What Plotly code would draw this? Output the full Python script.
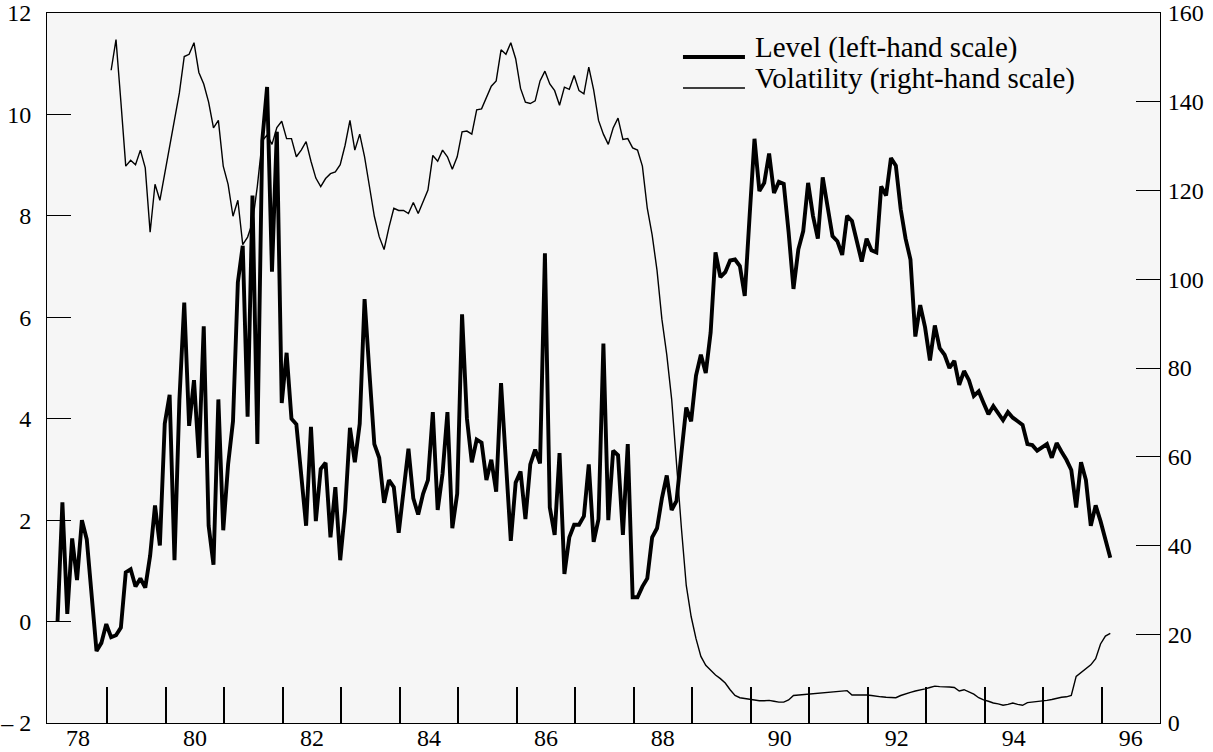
import plotly.graph_objects as go

# ---------------- data ----------------
# monthly observations; month index 0 = Jan 1978
LEVEL_START = 1
level = [
    0.0, 2.35, 0.15, 1.64, 0.82, 2.0, 1.62, 0.5, -0.58, -0.42,          # 1-10
    -0.05, -0.31, -0.27, -0.12, 0.97, 1.03, 0.69, 0.85, 0.67, 1.3,      # 11-20
    2.29, 1.5, 3.9, 4.47, 1.21, 4.36, 6.29, 3.86, 4.76, 3.23,           # 21-30
    5.82, 1.89, 1.12, 4.38, 1.8, 3.1, 3.95, 6.69, 7.41, 4.04,           # 31-40
    8.4, 3.5, 9.48, 10.54, 6.9, 9.66, 4.31, 5.3, 4.0, 3.89,             # 41-50
    2.9, 1.89, 3.84, 1.98, 3.01, 3.13, 1.66, 2.65, 1.21, 2.2,           # 51-60
    3.82, 3.14, 3.9, 6.36, 4.9, 3.5, 3.23, 2.34, 2.79, 2.65,            # 61-70
    1.75, 2.52, 3.41, 2.43, 2.11, 2.52, 2.79, 4.13, 2.2, 2.92,          # 71-80
    4.13, 1.84, 2.52, 6.06, 4.0, 3.14, 3.59, 3.53, 2.79, 3.19,          # 81-90
    2.56, 4.7, 3.0, 1.59, 2.74, 2.96, 2.02, 3.1, 3.39, 3.12,            # 91-100
    7.26, 2.25, 1.71, 3.32, 0.94, 1.66, 1.91, 1.91, 2.08, 3.1,          # 101-110
    1.57, 2.02, 5.48, 2.0, 3.37, 3.28, 1.71, 3.5, 0.48, 0.48,           # 111-120
    0.69, 0.85, 1.66, 1.84, 2.43, 2.88, 2.2, 2.38, 3.32, 4.22,          # 121-130
    3.95, 4.85, 5.26, 4.9, 5.7, 7.28, 6.79, 6.89, 7.12, 7.14,           # 131-140
    7.01, 6.42, 8.0, 9.52, 8.49, 8.65, 9.23, 8.45, 8.67, 8.63,          # 141-150
    7.68, 6.56, 7.34, 7.7, 8.65, 8.0, 7.55, 8.76, 8.18, 7.6,            # 151-160
    7.5, 7.23, 8.0, 7.9, 7.5, 7.1, 7.55, 7.32, 7.28, 8.58,              # 161-170
    8.4, 9.14, 8.99, 8.13, 7.55, 7.14, 5.62, 6.24, 5.8, 5.15,           # 171-180
    5.84, 5.39, 5.26, 5.0, 5.14, 4.67, 4.94, 4.76, 4.45, 4.54,          # 181-190
    4.31, 4.09, 4.25, 4.11, 3.97, 4.13, 4.02, 3.95, 3.88, 3.5,          # 191-200
    3.48, 3.37, 3.44, 3.5, 3.23, 3.52, 3.35, 3.19, 2.99, 2.25,          # 201-210
    3.14, 2.79, 1.89, 2.29, 1.98, 1.62, 1.26,                           # 211-217
]

VOL_START = 12
volatility = [
    147.1, 154.0, 140.0, 125.5, 126.8, 125.8, 129.1, 125.1, 110.6,      # 12-20
    121.4, 117.8, 124.0, 129.6, 136.3, 142.0, 150.2, 150.7, 153.3, 146.6,  # 21-30
    144.0, 139.9, 134.1, 135.8, 125.5, 121.4, 114.2, 117.8, 107.8, 109.5,  # 31-40
    112.8, 121.0, 131.2, 132.5, 130.4, 134.2, 135.6, 131.7, 131.7, 127.6,  # 41-50
    129.1, 131.0, 126.6, 122.8, 120.9, 122.7, 123.8, 124.2, 125.8, 130.2,  # 51-60
    135.8, 129.1, 132.7, 127.6, 120.9, 114.2, 109.6, 106.7, 111.7, 116.0,  # 61-70
    115.5, 115.5, 114.8, 117.3, 114.8, 117.3, 120.1, 127.9, 126.6, 129.1,  # 71-80
    127.6, 124.8, 127.6, 133.2, 133.4, 132.7, 138.2, 138.4, 140.9, 143.5,  # 81-90
    144.7, 151.7, 150.7, 153.3, 149.7, 143.0, 139.9, 139.6, 140.2, 144.7,  # 91-100
    146.9, 144.0, 142.5, 139.2, 143.3, 142.8, 145.9, 142.5, 141.8, 147.8,  # 101-110
    142.7, 135.8, 132.7, 130.4, 134.1, 136.3, 131.5, 131.7, 129.6, 129.1,  # 111-120
    125.5, 116.0, 110.0, 102.0, 91.0, 83.0, 73.0, 58.0, 44.0, 31.0,        # 121-130
    24.0, 19.0, 15.0, 13.0, 11.8, 10.8, 10.0, 9.0, 7.5, 6.2,               # 131-140
    5.7, 5.5, 5.4, 5.2, 5.0, 5.0, 5.1, 4.9, 4.7, 4.7,                      # 141-150
    5.2, 6.2, 6.3, 6.3, 6.5, 6.6, 6.7, 6.8, 6.9, 7.0,                      # 151-160
    7.1, 7.2, 7.3, 6.3, 6.3, 6.4, 6.3, 6.2, 6.0, 5.9,                      # 161-170
    5.8, 5.7, 5.7, 6.2, 6.6, 6.9, 7.2, 7.4, 7.7, 8.0,                      # 171-180
    8.3, 8.2, 8.2, 8.1, 8.0, 7.2, 7.5, 7.0, 6.5, 5.7,                      # 181-190
    5.2, 4.9, 4.5, 4.3, 4.0, 4.2, 4.5, 4.2, 4.0, 4.6,                      # 191-200
    4.7, 4.8, 5.0, 5.1, 5.3, 5.6, 5.8, 5.9, 6.2, 10.5,                     # 201-210
    11.3, 12.2, 13.1, 14.5, 17.8, 19.6, 20.2,                              # 211-217
]

year_labels = ["78", "80", "82", "84", "86", "88", "90", "92", "94", "96"]
year_label_pos = [1978.5 + 2 * k for k in range(len(year_labels))]   # label centred on each year
year_boundaries = list(range(1979, 1997))                            # inside tick marks

left_ticks = [-2, 0, 2, 4, 6, 8, 10, 12]
left_ticktext = ["\u2013 2", "0", "2", "4", "6", "8", "10", "12"]
right_ticks = [0, 20, 40, 60, 80, 100, 120, 140, 160]

series_names = ["Level (left-hand scale)", "Volatility (right-hand scale)"]

# ---------------- figure ----------------
def month_to_year(m):
    return 1978 + (m + 0.8) / 12

x_level = [month_to_year(LEVEL_START + k) for k in range(len(level))]
x_vol = [month_to_year(VOL_START + k) for k in range(len(volatility))]

FONT = "Liberation Serif"

fig = go.Figure()
fig.add_trace(go.Scatter(x=x_vol, y=volatility, mode="lines", yaxis="y2",
                         line=dict(color="black", width=1.4), name=series_names[1],
                         showlegend=False))
fig.add_trace(go.Scatter(x=x_level, y=level, mode="lines", yaxis="y",
                         line=dict(color="black", width=3.9), name=series_names[0],
                         showlegend=False))

axis_common = dict(showgrid=False, zeroline=False, showline=True, linecolor="black",
                   linewidth=1, automargin=False, ticklabeloverflow="allow",
                   tickfont=dict(family=FONT, size=24, color="black"))

fig.update_layout(
    width=1213, height=752, autosize=False,
    margin=dict(l=47, r=53, t=13, b=29),
    paper_bgcolor="white", plot_bgcolor="#f6f6f6",
    xaxis=dict(range=[1977.97, 1997.0], tickvals=year_label_pos, ticktext=year_labels,
               ticks="", mirror=True, ticklabelstandoff=-7,
               minor=dict(tickvals=year_boundaries, ticks="inside", ticklen=36,
                          tickwidth=1.8, tickcolor="black", showgrid=False),
               **axis_common),
    yaxis=dict(range=[-2, 12], tickvals=left_ticks, ticktext=left_ticktext,
               ticks="inside", ticklen=24, tickwidth=1, tickcolor="black",
               mirror=True, ticklabelstandoff=10, **axis_common),
    yaxis2=dict(range=[0, 160], tickvals=right_ticks, overlaying="y", side="right",
                ticks="inside", ticklen=24, tickwidth=1, tickcolor="black",
                ticklabelstandoff=2, **axis_common),
    showlegend=False,
)

# hand-drawn legend (key lines + labels) in the upper right
legend_rows = [(0.938, 3.9), (0.8944, 1.4)]
for (ly, lw), name in zip(legend_rows, series_names):
    fig.add_shape(type="line", xref="paper", yref="paper", x0=0.5714, x1=0.6271,
                  y0=ly, y1=ly, line=dict(color="black", width=lw))
    fig.add_annotation(xref="paper", yref="paper", x=0.634, y=ly - 0.013, text=name,
                       showarrow=False, xanchor="left", yanchor="bottom",
                       font=dict(family=FONT, size=29, color="black"))

# remove the default page margin so the figure fills the window exactly
fig.write_html("out.html", config={"displayModeBar": False},
               post_script="document.body.style.margin='0';"
                           "document.body.style.overflow='hidden';")
